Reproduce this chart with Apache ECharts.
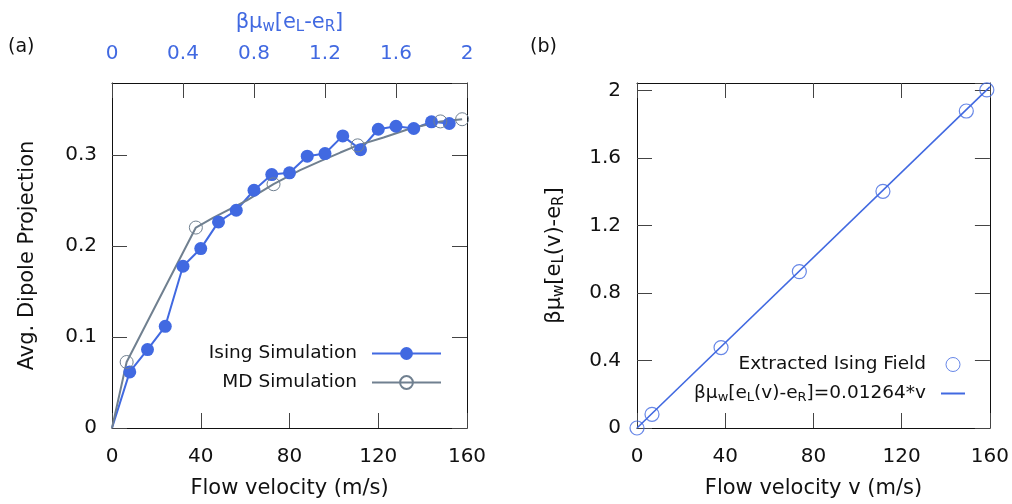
<!DOCTYPE html>
<html>
<head>
<meta charset="utf-8">
<script src="https://cdn.jsdelivr.net/npm/echarts@6/dist/echarts.min.js"></script>
<style>
html,body{margin:0;padding:0;background:#fff;}
#c{width:1012px;height:504px;}
</style>
</head>
<body>
<div id="c"></div>
<script>
// ---------- data ----------
// Panel (a)
const isingV = [0, 8, 16, 24, 32, 40, 48, 56, 64, 72, 80, 88, 96, 104, 112, 120, 128, 136, 144, 152];
const isingP = [0, 0.0616, 0.0861, 0.1117, 0.1777, 0.1971, 0.2264, 0.2392, 0.2612, 0.2784, 0.2803, 0.2986, 0.3015, 0.3209, 0.3058, 0.3282, 0.3315, 0.3290, 0.3363, 0.3345];
// MD simulation points (open circles)
const mdV = [6.6, 37.8, 72.8, 110.7, 148.0, 157.8];
const mdP = [0.0725, 0.2202, 0.2678, 0.3105, 0.3368, 0.3392];
// extra points (no marker)
const mdCurveV = [0, 45.7, 60.8, 84.8, 93.9, 102.9, 122.4, 134.5];
const mdCurveP = [0, 0.231, 0.250, 0.2832, 0.2931, 0.3026, 0.3191, 0.3290];
// axis ticks
const xTicks = [0, 40, 80, 120, 160];
const topTicks = [0, 0.4, 0.8, 1.2, 1.6, 2];

// Panel (b)
const fieldV = [0, 6.8, 38.1, 73.6, 111.5, 149.3, 158.6];
const fieldE = [0, 0.081, 0.477, 0.927, 1.403, 1.879, 2.004];
const fitV = [0, 160];
const fitE = [0, 2.0224];

// ---------- build ----------
const BLUE = '#4169E1';
const GREY = '#708090';
const FONT = 'DejaVu Sans';

const isingData = isingV.map((v, i) => i === 0 ? {value: [v, isingP[i]], symbol: 'none'} : [v, isingP[i]]);
const mdAll = mdV.map((v, i) => ({value: [v, mdP[i]]}))
  .concat(mdCurveV.map((v, i) => ({value: [v, mdCurveP[i]], symbol: 'none'})))
  .sort((a, b) => a.value[0] - b.value[0]);
const fieldData = fieldV.map((v, i) => [v, fieldE[i]]);
const fitData = fitV.map((v, i) => [v, fitE[i]]);

const tick = {show: true, inside: true, length: 15, lineStyle: {color: '#444', width: 1}};
const line = {show: true, onZero: false, lineStyle: {color: '#111', width: 1}};
const lab = {fontFamily: FONT, fontSize: 20, color: '#111'};
const nameStyle = {fontFamily: FONT, fontSize: 21, color: '#111'};

function subRich(color, big, small, pad) {
  return {
    t: {fontFamily: FONT, fontSize: big, color: color},
    s: {fontFamily: FONT, fontSize: small, color: color, padding: [pad, 0, 0, 0]}
  };
}

const chart = echarts.init(document.getElementById('c'), null, {renderer: 'canvas'});
chart.setOption({
  animation: false,
  backgroundColor: '#fff',
  title: [
    {text: '(a)', left: 3, top: 33, textStyle: {fontFamily: FONT, fontSize: 19, fontWeight: 'normal', color: '#111'}},
    {text: '(b)', left: 525, top: 33, textStyle: {fontFamily: FONT, fontSize: 19, fontWeight: 'normal', color: '#111'}}
  ],
  grid: [
    {left: 112, top: 83, width: 355, height: 345},
    {left: 637, top: 83, width: 353, height: 345}
  ],
  xAxis: [
    {gridIndex: 0, type: 'value', position: 'bottom', min: xTicks[0], max: xTicks[xTicks.length - 1], interval: 40,
     axisLine: line, axisTick: tick, splitLine: {show: false},
     axisLabel: Object.assign({margin: 19}, lab),
     name: 'Flow velocity (m/s)', nameLocation: 'middle', nameGap: 50, nameTextStyle: nameStyle},
    {gridIndex: 0, type: 'value', position: 'top', min: topTicks[0], max: topTicks[topTicks.length - 1], interval: 0.4,
     axisLine: line, axisTick: tick, splitLine: {show: false},
     axisLabel: Object.assign({}, lab, {margin: 19, color: BLUE}),
     name: '{t|βμ}{s|w}{t|[e}{s|L}{t|-e}{s|R}{t|]}', nameLocation: 'middle', nameGap: 48,
     nameTextStyle: {fontFamily: FONT, fontSize: 21, color: BLUE, rich: subRich(BLUE, 21, 15, 10)}},
    {gridIndex: 1, type: 'value', position: 'bottom', min: xTicks[0], max: xTicks[xTicks.length - 1], interval: 40,
     axisLine: line, axisTick: tick, splitLine: {show: false},
     axisLabel: Object.assign({margin: 19}, lab),
     name: 'Flow velocity v (m/s)', nameLocation: 'middle', nameGap: 50, nameTextStyle: nameStyle},
    {gridIndex: 1, type: 'value', position: 'top', min: xTicks[0], max: xTicks[xTicks.length - 1], interval: 40,
     axisLine: line, axisTick: tick, splitLine: {show: false}, axisLabel: {show: false}}
  ],
  yAxis: [
    {gridIndex: 0, type: 'value', position: 'left', min: 0, max: 0.379, interval: 0.1,
     axisLine: line, axisTick: tick, splitLine: {show: false},
     axisLabel: Object.assign({margin: 15, showMaxLabel: false}, lab),
     name: 'Avg. Dipole Projection', nameLocation: 'middle', nameGap: 74, nameTextStyle: nameStyle},
    {gridIndex: 0, type: 'value', position: 'right', min: 0, max: 0.379, interval: 0.1,
     axisLine: line, axisTick: tick, splitLine: {show: false}, axisLabel: {show: false}},
    {gridIndex: 1, type: 'value', position: 'left', min: 0, max: 2.045, interval: 0.4,
     axisLine: line, axisTick: tick, splitLine: {show: false},
     axisLabel: Object.assign({margin: 16, showMaxLabel: false}, lab),
     name: '{t|βμ}{s|w}{t|[e}{s|L}{t|(v)-e}{s|R}{t|]}', nameLocation: 'middle', nameGap: 70,
     nameTextStyle: {fontFamily: FONT, fontSize: 21, color: '#111', rich: subRich('#111', 21, 15, 10)}},
    {gridIndex: 1, type: 'value', position: 'right', min: 0, max: 2.045, interval: 0.4,
     axisLine: line, axisTick: tick, splitLine: {show: false}, axisLabel: {show: false}}
  ],
  legend: [
    {data: ['Ising Simulation', 'MD Simulation'], orient: 'vertical', align: 'right',
     right: 565, top: 339, itemWidth: 69, itemHeight: 16, itemGap: 10,
     textStyle: {fontFamily: FONT, fontSize: 18.5, color: '#111', padding: [0, 10, 0, 0]}},
    {data: [{name: 'Extracted Ising Field', itemStyle: {color: 'rgba(0,0,0,0)', borderColor: BLUE, borderWidth: 1}},
            {name: 'fit', itemStyle: {color: 'rgba(0,0,0,0)', borderColor: 'rgba(0,0,0,0)', borderWidth: 0}}],
     orient: 'vertical', align: 'right',
     right: 41, top: 350, itemWidth: 24, itemHeight: 14, itemGap: 10,
     formatter: function (n) { return n === 'fit' ? '{t|βμ}{s|w}{t|[e}{s|L}{t|(v)-e}{s|R}{t|]=0.01264*v}' : n; },
     textStyle: {fontFamily: FONT, fontSize: 18.5, color: '#111', padding: [0, 10, 0, 0], rich: subRich('#111', 18.5, 13, 8)}}
  ],
  series: [
    {name: 'Ising Simulation', type: 'line', xAxisIndex: 0, yAxisIndex: 0, clip: false,
     symbol: 'circle', symbolSize: 13, data: isingData,
     lineStyle: {color: BLUE, width: 2}, itemStyle: {color: BLUE}},
    {name: 'MD Simulation', type: 'line', xAxisIndex: 0, yAxisIndex: 0, clip: false,
     symbol: 'circle', symbolSize: 13, data: mdAll,
     lineStyle: {color: GREY, width: 2},
     itemStyle: {color: 'rgba(255,255,255,0)', borderColor: GREY, borderWidth: 1}},
    {name: 'Extracted Ising Field', type: 'scatter', xAxisIndex: 2, yAxisIndex: 2, clip: false,
     symbol: 'circle', symbolSize: 14, data: fieldData,
     itemStyle: {color: 'rgba(255,255,255,0)', borderColor: BLUE, borderWidth: 1.2}},
    {name: 'fit', type: 'line', xAxisIndex: 2, yAxisIndex: 2, clip: false,
     symbol: 'none', data: fitData,
     lineStyle: {color: BLUE, width: 1.6}, itemStyle: {color: BLUE}}
  ]
});
</script>
</body>
</html>
